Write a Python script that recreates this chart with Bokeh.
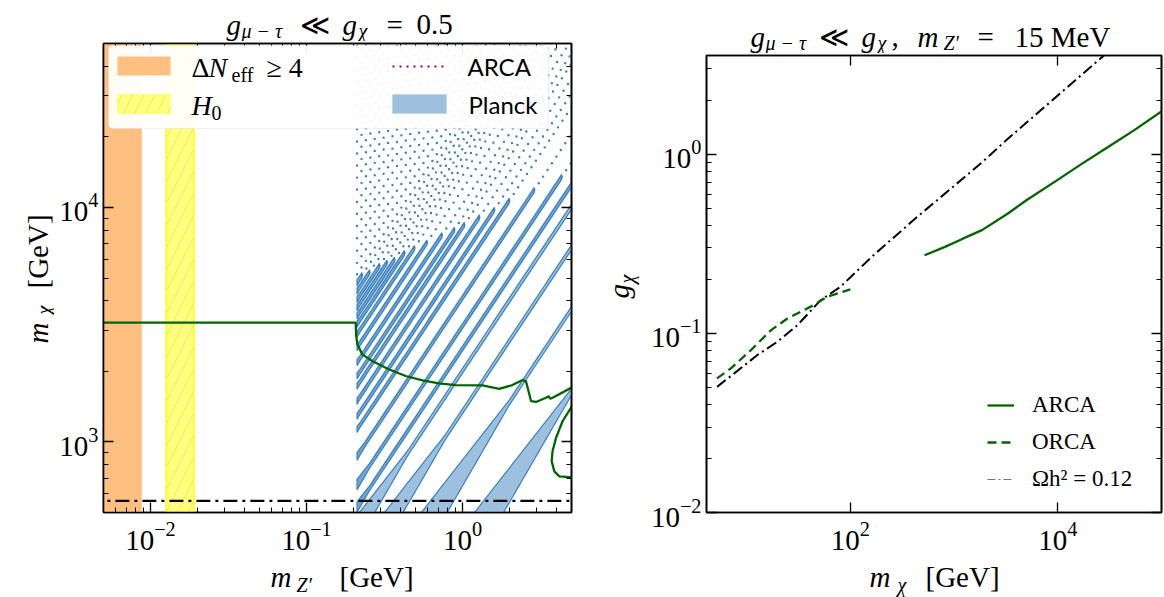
import numpy as np
from bokeh.plotting import figure
from bokeh.models import (Range1d, LogAxis, FixedTicker, Label, BoxAnnotation, Arrow,
                          Legend, LegendItem)
from bokeh.layouts import row, column
from bokeh.embed import file_html
from bokeh.resources import INLINE

# ---------------- data : left panel (g_mu-tau << g_chi = 0.5) ----------------
neff_mzp = [0.001, 0.0088]          # Delta N_eff >= 4 excluded band in m_Z' [GeV]
h0_mzp = [0.0126, 0.019]            # H0 band in m_Z' [GeV]

arca_mzp = [0.004, 0.207, 0.208, 0.212, 0.228, 0.264, 0.339, 0.433, 0.554, 0.708, 0.907,
            1.344, 1.72, 2.09, 2.43, 2.55, 2.65, 2.75, 2.96, 3.43, 3.57, 3.64, 3.78, 5.3]
arca_mchi = [3225, 3225, 2877, 2607, 2362, 2213, 2037, 1910, 1829, 1777, 1747,
             1742, 1684, 1747, 1835, 1816, 1649, 1493, 1480, 1542, 1567, 1531, 1542, 1740]
arca_loop_mzp = [5.3, 4.38, 3.98, 3.78, 3.73, 3.88, 4.18, 5.3]
arca_loop_mchi = [1500, 1225, 1040, 912, 828, 749, 713, 704]

relic_left_mzp = [0.004, 6.0]
relic_left_mchi = [560, 560]

# Planck: resonance stripes m_chi = ratio * m_Z' (starting at m_Z' = 2 m_mu)
planck_start_mzp = 0.211
planck_ratio = [327, 737, 1350, 2010, 2500, 3118, 4114, 5355, 6104, 7076, 8199, 9052,
                10318, 11962, 13645, 15057, 16336, 17730, 19190, 20850, 22650, 24600,
                27500, 31000, 35000, 39500, 44500, 50000, 56500, 63500, 71500, 80500,
                90500, 102000, 115000, 129000, 145000, 163000, 183000, 206000, 232000]
planck_width = [0.44, 0.314, 0.19, 0.118, 0.045, 0.045, 0.034]   # decades at m_Z' = 2 m_mu
planck_edge_mzp = [0.211, 4.91]      # above this edge the stripes are only sampled points
planck_edge_mchi = [5100, 14400]

# ---------------- data : right panel (m_Z' = 15 MeV) ----------------
relic_mchi = [5.18, 7.59, 12.7, 19.8, 30.8, 51.5, 80.2, 167, 423, 1858, 3300, 28000, 40000]
relic_g = [0.0503, 0.0598, 0.0757, 0.0898, 0.111, 0.153, 0.182, 0.273, 0.438, 0.90, 1.22, 3.57, 4.27]

orca_mchi = [5.18, 7.05, 11.0, 17.1, 24.7, 44.5, 59.7, 100]
orca_g = [0.0561, 0.0638, 0.0807, 0.104, 0.121, 0.144, 0.160, 0.176]

arca_r_mchi = [519, 817, 1230, 1857, 3305, 4984, 10050, 17140, 30560, 54200, 100700]
arca_r_g = [0.273, 0.304, 0.339, 0.377, 0.467, 0.554, 0.722, 0.887, 1.099, 1.36, 1.74]

# ---------------- style ----------------
SERIF = "Liberation Serif"
SANS = "Lato"
GREEN = "#006400"
ORANGE = "#ffbf80"
BLUE_FILL = "#9cc0de"
BLUE_EDGE = "#3a80c0"


def style_axis(ax, ticks, labels=True, standoff=5):
    ax.axis_line_color = "black"
    ax.axis_line_width = 1.6
    ax.major_tick_in = 10
    ax.major_tick_out = 0
    ax.minor_tick_in = 5
    ax.minor_tick_out = 0
    ax.major_tick_line_color = "black"
    ax.major_tick_line_width = 1.3
    ax.minor_tick_line_color = "black"
    ax.minor_tick_line_width = 1.0
    ax.major_label_text_font = SERIF
    ax.major_label_text_color = "black"
    if labels:
        ax.major_label_text_font_size = "29px"
        ax.major_label_standoff = standoff
    else:
        ax.major_label_text_font_size = "1px"
        ax.major_label_text_alpha = 0
        ax.major_label_standoff = 0
        ax.major_label_overrides = {t: "" for t in ticks}


def decade_minors(lo_exp, hi_exp, lo, hi):
    out = []
    for e in range(lo_exp, hi_exp + 1):
        for k in range(2, 10):
            v = k * 10.0 ** e
            if lo <= v <= hi:
                out.append(v)
    return out


def frame_axes(p, xt, xm, yt, ym):
    p.xaxis.ticker = FixedTicker(ticks=xt, minor_ticks=xm)
    p.yaxis.ticker = FixedTicker(ticks=yt, minor_ticks=ym)
    style_axis(p.xaxis[0], xt, True, 9)
    style_axis(p.yaxis[0], yt, True, 5)
    top = LogAxis(ticker=FixedTicker(ticks=xt, minor_ticks=xm))
    right = LogAxis(ticker=FixedTicker(ticks=yt, minor_ticks=ym))
    style_axis(top, xt, False)
    style_axis(right, yt, False)
    p.add_layout(top, "above")
    p.add_layout(right, "right")
    p.grid.visible = False
    p.outline_line_color = "black"
    p.outline_line_width = 1.6
    p.background_fill_color = "white"
    p.border_fill_color = "white"


def text_fig(w, h):
    f = figure(width=w, height=h, x_range=Range1d(0, 1), y_range=Range1d(0, 1),
               output_backend="svg", toolbar_location=None,
               x_axis_location=None, y_axis_location=None, min_border=0)
    f.grid.visible = False
    f.outline_line_color = None
    return f


def put(p, fx0, fy0, text, ix, iy, size, italic=False, font=SERIF, angle=0.0):
    """place text whose baseline starts at page pixel (ix, iy); (fx0, fy0) is the page
    position of the frame's bottom-left corner of figure p"""
    k = 0.36 if font == SANS else 0.3          # alphabetic-baseline offset of the renderer
    if angle == 0.0:
        sx, sy = ix - fx0, fy0 - (iy - k * size)
    else:
        sx, sy = (ix - k * size) - fx0, fy0 - iy
    p.add_layout(Label(x=sx, y=sy, x_units="screen", y_units="screen",
                       text=text, text_font=font, text_font_size=f"{size}px",
                       text_font_style="italic" if italic else "normal",
                       text_baseline="alphabetic", text_align="left",
                       angle=angle, text_color="black"))


def sbox(p, fx0, fy0, l, r, t, b, **kw):
    p.add_layout(BoxAnnotation(left=l - fx0, right=r - fx0, top=fy0 - t, bottom=fy0 - b,
                               left_units="screen", right_units="screen",
                               top_units="screen", bottom_units="screen", **kw))


# =============== left plot ===============
X1, XH1 = 0.005, 5.0
YL1, YH1 = 500.0, 5.0e4
p1 = figure(width=546, height=519, x_axis_type="log", y_axis_type="log",
            x_range=Range1d(X1, XH1), y_range=Range1d(YL1, YH1),
            output_backend="svg", toolbar_location=None,
            min_border_left=49, min_border_right=29, min_border_top=2, min_border_bottom=48)
frame_axes(p1, [0.01, 0.1, 1.0], decade_minors(-3, 0, X1, XH1),
           [1e3, 1e4], decade_minors(2, 4, YL1, YH1))

# bands
p1.quad(left=[neff_mzp[0]], right=[neff_mzp[1]], bottom=[YL1], top=[YH1],
        fill_color=ORANGE, line_color=None)
p1.quad(left=[h0_mzp[0]], right=[h0_mzp[1]], bottom=[YL1], top=[YH1],
        fill_color="#ffff80", line_color="#ffff00", line_width=1.5,
        hatch_pattern="/", hatch_color="#e0e040", hatch_alpha=0.6, hatch_scale=22, hatch_weight=1)

# Planck stripes
xg = np.logspace(np.log10(planck_start_mzp), np.log10(5.6), 90)
lx = np.log10(xg)
e_s = (np.log10(planck_edge_mchi[1]) - np.log10(planck_edge_mchi[0])) / \
      (np.log10(planck_edge_mzp[1]) - np.log10(planck_edge_mzp[0]))
edge = np.log10(planck_edge_mchi[0]) + e_s * (lx - np.log10(planck_edge_mzp[0]))
poly_x, poly_y, poly_fill, dot_x, dot_y = [], [], [], [], []
for i, r in enumerate(planck_ratio):
    wl = planck_width[i] if i < len(planck_width) else 0.026
    w = np.maximum(0.021, wl - 0.3 * (lx - lx[0]))
    c = np.log10(r * xg)
    solid = c <= edge
    n = int(solid.sum())
    if n >= 2:
        up = 10 ** (c[:n] + w[:n] / 2)
        lo = 10 ** (c[:n] - w[:n] / 2)
        poly_x.append(list(xg[:n]) + list(xg[:n][::-1]))
        poly_y.append(list(up) + list(lo[::-1]))
        poly_fill.append(BLUE_FILL if i < 4 else "#6fa3d2")
    if n < len(xg):
        s = max(n - 1, 0)
        dot_x.append(list(xg[s:]))
        dot_y.append(list(10 ** c[s:]))
p1.patches(xs=poly_x, ys=poly_y, fill_color=poly_fill, line_color=BLUE_EDGE, line_width=1.2)
p1.multi_line(dot_x, dot_y, line_color=BLUE_EDGE, line_width=2.4, line_dash="0 8",
              line_cap="round")

# ARCA sensitivity and relic line
p1.line(arca_mzp, arca_mchi, line_color=GREEN, line_width=2.3)
p1.line(arca_loop_mzp, arca_loop_mchi, line_color=GREEN, line_width=2.3)
p1.line(relic_left_mzp, relic_left_mchi, line_color="black", line_width=2.3, line_dash="14 5 3 5")

# manual legend (left); page pixels converted to frame-relative screen units
F1X, F1Y = 103, 512
sbox(p1, F1X, F1Y, 108, 548, 45, 128, fill_color="white", fill_alpha=0.93,
     line_color="#cccccc", line_width=1, border_radius=4)
sbox(p1, F1X, F1Y, 117, 170, 56, 75, fill_color=ORANGE, fill_alpha=1, line_color=None)
sbox(p1, F1X, F1Y, 117, 170, 94, 113, fill_color="#ffff80", fill_alpha=1,
     line_color="#ffff00", line_width=1.5, hatch_pattern="/", hatch_color="#e0e040",
     hatch_alpha=0.6, hatch_scale=22)
sbox(p1, F1X, F1Y, 392, 446, 94, 113, fill_color=BLUE_FILL, fill_alpha=1,
     line_color="#b0cce6", line_width=1)
p1.add_layout(Arrow(end=None, x_start=392 - F1X, y_start=F1Y - 66, x_end=446 - F1X,
                    y_end=F1Y - 66, start_units="screen", end_units="screen",
                    line_color="purple", line_width=2, line_dash=[2, 5]))
put(p1, F1X, F1Y, "Δ", 191, 75, 28)
put(p1, F1X, F1Y, "N", 208, 75, 28, italic=True)
put(p1, F1X, F1Y, "eff", 231, 80, 20)
put(p1, F1X, F1Y, "≥ 4", 266, 75, 28)
put(p1, F1X, F1Y, "H", 191, 113, 28, italic=True)
put(p1, F1X, F1Y, "0", 211, 118, 20)
put(p1, F1X, F1Y, "ARCA", 467, 75, 24, font=SANS)
put(p1, F1X, F1Y, "Planck", 468, 113, 24, font=SANS)

# text strips round the left plot
T1 = text_fig(600, 41)          # page y 0..41
Y1 = text_fig(54, 519)          # page x 0..54; its frame is aligned with p1's (bottom at 512)
XL1 = text_fig(600, 37)         # page y 560..597
put(T1, 0, 41, "g", 226, 33, 29, italic=True)
put(T1, 0, 41, "μ − τ", 241, 36, 20, italic=True)
put(T1, 0, 41, "≪", 299, 33, 29)
put(T1, 0, 41, "g", 342, 33, 29, italic=True)
put(T1, 0, 41, "χ", 358, 36, 20, italic=True)
put(T1, 0, 41, "=", 386, 33, 29)
put(T1, 0, 41, "0.5", 416, 33, 29)
put(XL1, 0, 597, "m", 270, 585, 29, italic=True)
put(XL1, 0, 597, "Z′", 296, 590, 20, italic=True)
put(XL1, 0, 597, "[GeV]", 339, 585, 29)
put(Y1, 0, 512, "m", 46, 343, 29, italic=True, angle=np.pi / 2)
put(Y1, 0, 512, "χ", 49, 314, 20, italic=True, angle=np.pi / 2)
put(Y1, 0, 512, "[GeV]", 46, 288, 29, angle=np.pi / 2)

# =============== right plot ===============
X2, XH2 = 4.1, 1.0e5
YL2, YH2 = 0.01, 3.56
p2 = figure(width=524, height=507, x_axis_type="log", y_axis_type="log",
            x_range=Range1d(X2, XH2), y_range=Range1d(YL2, YH2),
            output_backend="svg", toolbar_location=None,
            min_border_left=66, min_border_right=3, min_border_top=2, min_border_bottom=48)
frame_axes(p2, [1e2, 1e4], [], [0.01, 0.1, 1.0], decade_minors(-2, 0, YL2, YH2))

r_relic = p2.line(relic_mchi, relic_g, line_color="black", line_width=2.0, line_dash="11 4 2 4")
r_orca = p2.line(orca_mchi, orca_g, line_color=GREEN, line_width=2.3, line_dash="9 5")
r_arca = p2.line(arca_r_mchi, arca_r_g, line_color=GREEN, line_width=2.3)
r_relic_key = p2.line([1e9, 2e9], [1e9, 2e9], line_color="#777777", line_width=1.2,
                      line_dash="8 3 2 3")

leg = Legend(items=[LegendItem(label="ARCA", renderers=[r_arca]),
                    LegendItem(label="ORCA", renderers=[r_orca]),
                    LegendItem(label="Ωh² = 0.12", renderers=[r_relic_key])],
             location=(281, 20), padding=0, margin=0, spacing=11,
             glyph_width=27, glyph_height=26, label_height=26, label_standoff=18,
             label_text_font=SERIF, label_text_font_size="23px", label_text_color="black",
             border_line_alpha=0, background_fill_alpha=0)
p2.add_layout(leg)

T2 = text_fig(564, 53)          # page x 600..1164, y 0..53
Y2 = text_fig(40, 507)          # page x 600..640; frame aligned with p2's (bottom at 512)
XL2 = text_fig(564, 37)         # page y 560..597
put(T2, 600, 53, "g", 750, 45, 29, italic=True)
put(T2, 600, 53, "μ − τ", 765, 48, 20, italic=True)
put(T2, 600, 53, "≪", 818, 45, 29)
put(T2, 600, 53, "g", 861, 45, 29, italic=True)
put(T2, 600, 53, "χ", 877, 48, 20, italic=True)
put(T2, 600, 53, ",", 891, 45, 29)
put(T2, 600, 53, "m", 917, 45, 29, italic=True)
put(T2, 600, 53, "Z′", 943, 48, 20, italic=True)
put(T2, 600, 53, "=", 977, 45, 29)
put(T2, 600, 53, "15 MeV", 1014, 45, 29)
put(XL2, 600, 597, "m", 869, 585, 29, italic=True)
put(XL2, 600, 597, "χ", 897, 590, 20, italic=True)
put(XL2, 600, 597, "[GeV]", 925, 585, 29)
put(Y2, 600, 512, "g", 627, 298, 29, italic=True, angle=np.pi / 2)
put(Y2, 600, 512, "χ", 632, 283, 20, italic=True, angle=np.pi / 2)

left_col = column(T1, row(Y1, p1), XL1)
right_col = column(T2, row(Y2, p2), XL2)
layout = row(left_col, right_col)
open("out.html", "w").write(file_html(layout, INLINE))
